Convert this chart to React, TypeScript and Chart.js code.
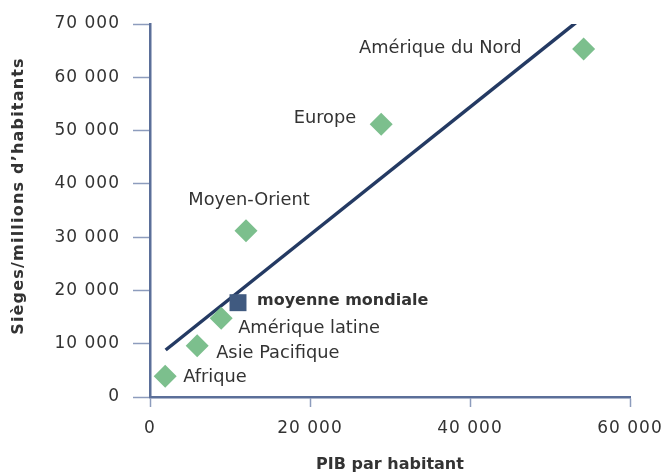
import React, { useEffect, useRef } from "react";
import { Chart, registerables } from "chart.js";

Chart.register(...registerables);

// ---- Data ----
const regionNames = ["Afrique", "Asie Pacifique", "Amérique latine", "Moyen-Orient", "Europe", "Amérique du Nord"];
const regionGdp = [1900, 5900, 8900, 12000, 28900, 54200];
const regionSeats = [3900, 9600, 14800, 31200, 51200, 65300];

const worldName = "moyenne mondiale";
const worldGdp = [11000];
const worldSeats = [17700];

const trendGdp = [1960, 53340];
const trendSeats = [8820, 70380];

const xTicks = [0, 20000, 40000, 60000];
const yTicks = [0, 10000, 20000, 30000, 40000, 50000, 60000, 70000];

const xTitle = "PIB par habitant";
const yTitle = "Sièges/millions d’habitants";

// ---- Label placement (styling, not data) ----
const regionLabelPlacement = [
  { dx: 18, dy: 1, align: "left" },
  { dx: 19, dy: 8, align: "left" },
  { dx: 17, dy: 10, align: "left" },
  { dx: 3, dy: -30, align: "center" },
  { dx: -25, dy: -6, align: "right" },
  { dx: -62, dy: -1, align: "right" },
];
const worldLabelPlacement = { dx: 19, dy: -2, align: "left" };

const FONT = "'DejaVu Sans', sans-serif";
const TEXT = "#333333";
const AXIS = "#5b6f99";
const TICK = "#8d9cbd";

function fmt(v: number): string {
  return String(Math.round(v)).replace(/\B(?=(\d{3})+(?!\d))/g, " ");
}

const spacingPlugin = {
  id: "tickSpacing",
  beforeDraw(chart: any) {
    (chart.ctx as any).letterSpacing = "1px";
  },
};

const labelsPlugin = {
  id: "customLabels",
  afterDatasetsDraw(chart: any) {
    const ctx = chart.ctx;
    ctx.save();
    (ctx as any).letterSpacing = "0px";
    ctx.textBaseline = "middle";
    const regionMeta = chart.getDatasetMeta(1);
    regionMeta.data.forEach((el: any, i: number) => {
      const p = regionLabelPlacement[i];
      ctx.font = `17.8px ${FONT}`;
      ctx.fillStyle = TEXT;
      ctx.textAlign = p.align;
      ctx.fillText(regionNames[i], el.x + p.dx, el.y + p.dy);
    });
    const worldMeta = chart.getDatasetMeta(2);
    worldMeta.data.forEach((el: any) => {
      const p = worldLabelPlacement;
      ctx.font = `bold 16px ${FONT}`;
      ctx.fillStyle = TEXT;
      ctx.textAlign = p.align;
      ctx.fillText(worldName, el.x + p.dx, el.y + p.dy);
    });
    // axis titles
    const area = chart.chartArea;
    ctx.font = `bold 16px ${FONT}`;
    ctx.fillStyle = TEXT;
    ctx.textAlign = "center";
    ctx.fillText(xTitle, (area.left + area.right) / 2, 465);
    (ctx as any).letterSpacing = "1.2px";
    ctx.translate(19, 196);
    ctx.rotate(-Math.PI / 2);
    ctx.fillText(yTitle, 0, 0);
    ctx.restore();
  },
};

export default function App() {
  const ref = useRef<HTMLCanvasElement | null>(null);

  useEffect(() => {
    if (!ref.current) return;
    const chart = new Chart(ref.current, {
      type: "scatter",
      data: {
        datasets: [
          {
            label: "tendance",
            data: trendGdp.map((x, i) => ({ x, y: trendSeats[i] })),
            showLine: true,
            borderColor: "#243a63",
            borderWidth: 3.5,
            pointRadius: 0,
            order: 3,
          } as any,
          {
            label: "régions",
            data: regionGdp.map((x, i) => ({ x, y: regionSeats[i] })),
            pointStyle: "rectRot",
            pointRadius: 11.5,
            backgroundColor: "#7cbf8d",
            borderColor: "#7cbf8d",
            borderWidth: 0,
            order: 2,
          },
          {
            label: worldName,
            data: worldGdp.map((x, i) => ({ x, y: worldSeats[i] })),
            pointStyle: "rect",
            pointRadius: 12,
            backgroundColor: "#405a80",
            borderColor: "#405a80",
            borderWidth: 0,
            order: 1,
          },
        ],
      },
      options: {
        animation: false,
        responsive: false,
        maintainAspectRatio: false,
        layout: { padding: { top: 24, right: 37, left: 0, bottom: 0 } },
        plugins: { legend: { display: false }, tooltip: { enabled: false } },
        scales: {
          x: {
            type: "linear",
            min: 0,
            max: 60000,
            afterFit: (s: any) => {
              s.height = 79;
              s.paddingLeft = 0;
              s.paddingRight = 0;
            },
            afterBuildTicks: (s: any) => {
              s.ticks = xTicks.map((v) => ({ value: v }));
            },
            ticks: {
              color: TEXT,
              font: { family: FONT, size: 17 },
              padding: 11,
              callback: (v: any) => fmt(Number(v)),
              maxRotation: 0,
            },
            grid: {
              drawOnChartArea: false,
              drawTicks: true,
              tickLength: 10,
              tickColor: TICK,
              tickWidth: 1.5,
            },
            border: { display: true, color: AXIS, width: 2.5 },
          },
          y: {
            type: "linear",
            min: 0,
            max: 70000,
            afterFit: (s: any) => {
              s.width = 150;
              s.paddingTop = 0;
              s.paddingBottom = 0;
            },
            afterBuildTicks: (s: any) => {
              s.ticks = yTicks.map((v) => ({ value: v }));
            },
            ticks: {
              color: TEXT,
              font: { family: FONT, size: 17 },
              padding: 13,
              callback: (v: any) => fmt(Number(v)),
            },
            grid: {
              drawOnChartArea: false,
              drawTicks: true,
              tickLength: 17,
              tickColor: TICK,
              tickWidth: 1.5,
            },
            border: { display: true, color: AXIS, width: 2.5 },
          },
        },
      },
      plugins: [spacingPlugin as any, labelsPlugin as any],
    });
    return () => chart.destroy();
  }, []);

  return (
    <div style={{ position: "fixed", left: 0, top: 0, width: 667, height: 476, background: "#ffffff" }}>
      <canvas ref={ref} width={667} height={476} style={{ display: "block", width: 667, height: 476 }} />
    </div>
  );
}
